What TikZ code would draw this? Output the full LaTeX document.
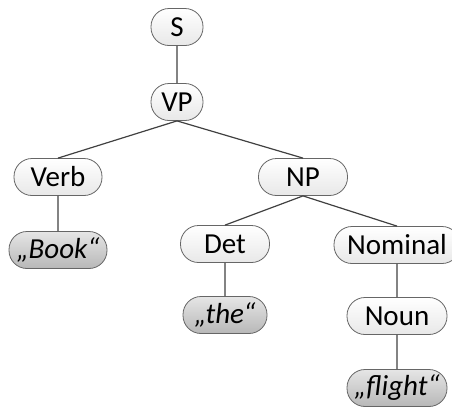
\documentclass[tikz,border=0pt]{standalone}
\usepackage{fontspec}
\setmainfont{Carlito}
\tikzset{
  cat/.style={rectangle, rounded corners=18pt, draw=black!60, line width=0.8pt,
    top color=white, bottom color=black!9,
    minimum height=37pt, inner xsep=5pt, inner ysep=0pt,
    font=\fontsize{29}{33}\selectfont},
  word/.style={cat, top color=black!10, bottom color=black!28,
    font=\fontsize{29}{33}\selectfont\itshape},
  edge/.style={draw=black!75, line width=1.2pt}
}
\begin{document}
\begin{tikzpicture}[x=1pt,y=-1pt]
\useasboundingbox (0,0) rectangle (452,408);
\node[cat, minimum width=52pt]  (S)    at (177,27)  {S};
\node[cat, minimum width=52pt]  (VP)   at (177,102) {VP};
\node[cat, minimum width=88pt]  (Verb) at (58,177)  {Verb};
\node[cat, minimum width=89pt]  (NP)   at (303,177) {NP};
\node[word, minimum width=98pt] (Book) at (58,250)  {„Book“};
\node[cat, minimum width=89pt]  (Det)  at (225,244) {Det};
\node[cat, minimum width=126pt] (Nom)  at (397,245) {Nominal};
\node[word, minimum width=84pt] (the)  at (225,315) {„the“};
\node[cat, minimum width=100pt] (Noun) at (397,316) {Noun};
\node[word, minimum width=100pt] (flight) at (397,388) {„flight“};
\path[edge] (S.south) -- (VP.north)
  (VP.south) -- (Verb.north)
  (VP.south) -- (NP.north)
  (Verb.south) -- (Book.north)
  (NP.south) -- (Det.north)
  (NP.south) -- (Nom.north)
  (Det.south) -- (the.north)
  (Nom.south) -- (Noun.north)
  (Noun.south) -- (flight.north);
\end{tikzpicture}
\end{document}
